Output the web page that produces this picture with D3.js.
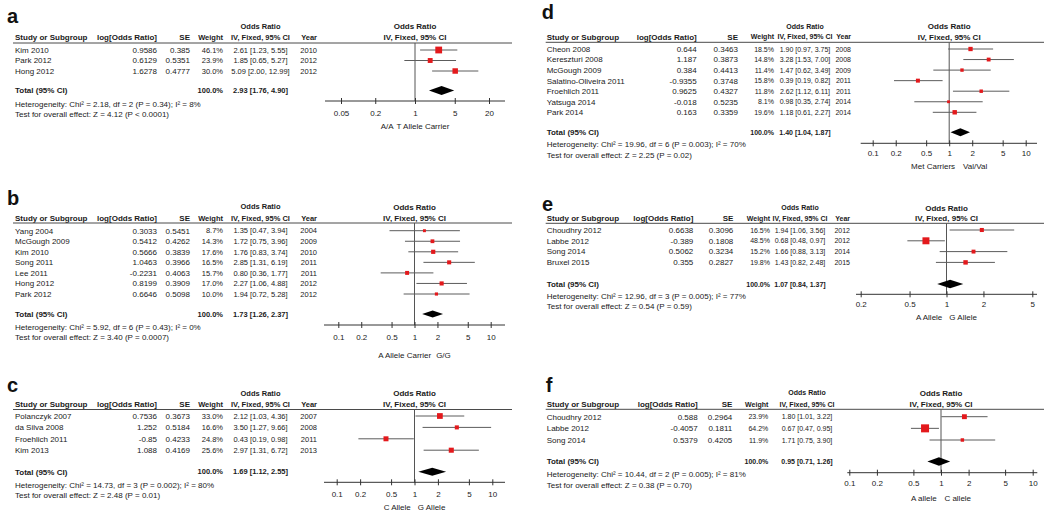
<!DOCTYPE html>
<html><head><meta charset="utf-8">
<script src="https://cdn.jsdelivr.net/npm/d3@7"></script>
<style>
body{margin:0;background:#fff;}
svg{display:block;font-family:"Liberation Sans",Arial,sans-serif;}
</style></head><body>
<svg id="chart" width="1050" height="517"></svg>
<script>
// ---------- Panel a ----------
const aStudies = ["Kim 2010","Park 2012","Hong 2012"];
const aLogOR = [0.9586,0.6129,1.6278];
const aSE = [0.385,0.5351,0.4777];
const aWeight = [46.1,23.9,30.0];
const aOR = [2.61,1.85,5.09];
const aLow = [1.23,0.65,2.00];
const aHigh = [5.55,5.27,12.99];
const aYear = [2010,2012,2012];
const aTotal = [2.93,1.76,4.90];
const aHet = "Heterogeneity: Chi\u00b2 = 2.18, df = 2 (P = 0.34); I\u00b2 = 8%";
const aTest = "Test for overall effect: Z = 4.12 (P < 0.0001)";
const aTicks = [0.05,0.2,1,5,20];
const aFavours = ["A/A","T Allele Carrier"];

// ---------- Panel b ----------
const bStudies = ["Yang 2004","McGough 2009","Kim 2010","Song 2011","Lee 2011","Hong 2012","Park 2012"];
const bLogOR = [0.3033,0.5412,0.5666,1.0463,-0.2231,0.8199,0.6646];
const bSE = [0.5451,0.4262,0.3839,0.3966,0.4063,0.3909,0.5098];
const bWeight = [8.7,14.3,17.6,16.5,15.7,17.0,10.0];
const bOR = [1.35,1.72,1.76,2.85,0.80,2.27,1.94];
const bLow = [0.47,0.75,0.83,1.31,0.36,1.06,0.72];
const bHigh = [3.94,3.96,3.74,6.19,1.77,4.88,5.28];
const bYear = [2004,2009,2010,2011,2011,2012,2012];
const bTotal = [1.73,1.26,2.37];
const bHet = "Heterogeneity: Chi\u00b2 = 5.92, df = 6 (P = 0.43); I\u00b2 = 0%";
const bTest = "Test for overall effect: Z = 3.40 (P = 0.0007)";
const bTicks = [0.1,0.2,0.5,1,2,5,10];
const bFavours = ["A Allele Carrier","G/G"];

// ---------- Panel c ----------
const cStudies = ["Polanczyk 2007","da Silva 2008","Froehlich 2011","Kim 2013"];
const cLogOR = [0.7536,1.252,-0.85,1.088];
const cSE = [0.3673,0.5184,0.4233,0.4169];
const cWeight = [33.0,16.6,24.8,25.6];
const cOR = [2.12,3.50,0.43,2.97];
const cLow = [1.03,1.27,0.19,1.31];
const cHigh = [4.36,9.66,0.98,6.72];
const cYear = [2007,2008,2011,2013];
const cTotal = [1.69,1.12,2.55];
const cHet = "Heterogeneity: Chi\u00b2 = 14.73, df = 3 (P = 0.002); I\u00b2 = 80%";
const cTest = "Test for overall effect: Z = 2.48 (P = 0.01)";
const cTicks = [0.1,0.2,0.5,1,2,5,10];
const cFavours = ["C Allele","G Allele"];

// ---------- Panel d ----------
const dStudies = ["Cheon 2008","Kereszturi 2008","McGough 2009","Salatino-Oliveira 2011","Froehlich 2011","Yatsuga 2014","Park 2014"];
const dLogOR = [0.644,1.187,0.384,-0.9355,0.9625,-0.018,0.163];
const dSE = [0.3463,0.3873,0.4413,0.3748,0.4327,0.5235,0.3359];
const dWeight = [18.5,14.8,11.4,15.8,11.8,8.1,19.6];
const dOR = [1.90,3.28,1.47,0.39,2.62,0.98,1.18];
const dLow = [0.97,1.53,0.62,0.19,1.12,0.35,0.61];
const dHigh = [3.75,7.00,3.49,0.82,6.11,2.74,2.27];
const dYear = [2008,2008,2009,2011,2011,2014,2014];
const dTotal = [1.40,1.04,1.87];
const dHet = "Heterogeneity: Chi\u00b2 = 19.96, df = 6 (P = 0.003); I\u00b2 = 70%";
const dTest = "Test for overall effect: Z = 2.25 (P = 0.02)";
const dTicks = [0.1,0.2,0.5,1,2,5,10];
const dFavours = ["Met Carriers","Val/Val"];

// ---------- Panel e ----------
const eStudies = ["Choudhry 2012","Labbe 2012","Song 2014","Bruxel 2015"];
const eLogOR = [0.6638,-0.389,0.5062,0.355];
const eSE = [0.3096,0.1808,0.3234,0.2827];
const eWeight = [16.5,48.5,15.2,19.8];
const eOR = [1.94,0.68,1.66,1.43];
const eLow = [1.06,0.48,0.88,0.82];
const eHigh = [3.56,0.97,3.13,2.48];
const eYear = [2012,2012,2014,2015];
const eTotal = [1.07,0.84,1.37];
const eHet = "Heterogeneity: Chi\u00b2 = 12.96, df = 3 (P = 0.005); I\u00b2 = 77%";
const eTest = "Test for overall effect: Z = 0.54 (P = 0.59)";
const eTicks = [0.2,0.5,1,2,5];
const eFavours = ["A Allele","G Allele"];

// ---------- Panel f ----------
const fStudies = ["Choudhry 2012","Labbe 2012","Song 2014"];
const fLogOR = [0.588,-0.4057,0.5379];
const fSE = [0.2964,0.1811,0.4205];
const fWeight = [23.9,64.2,11.9];
const fOR = [1.80,0.67,1.71];
const fLow = [1.01,0.47,0.75];
const fHigh = [3.22,0.95,3.90];
const fYear = null;
const fTotal = [0.95,0.71,1.26];
const fHet = "Heterogeneity: Chi\u00b2 = 10.44, df = 2 (P = 0.005); I\u00b2 = 81%";
const fTest = "Test for overall effect: Z = 0.38 (P = 0.70)";
const fTicks = [0.1,0.2,0.5,1,2,5,10];
const fFavours = ["A allele","C allele"];

const panels = [
  {id:"a", studies:aStudies, logOR:aLogOR, se:aSE, weight:aWeight, or:aOR, low:aLow, high:aHigh, year:aYear, total:aTotal, het:aHet, test:aTest, ticks:aTicks, favours:aFavours},
  {id:"b", studies:bStudies, logOR:bLogOR, se:bSE, weight:bWeight, or:bOR, low:bLow, high:bHigh, year:bYear, total:bTotal, het:bHet, test:bTest, ticks:bTicks, favours:bFavours},
  {id:"c", studies:cStudies, logOR:cLogOR, se:cSE, weight:cWeight, or:cOR, low:cLow, high:cHigh, year:cYear, total:cTotal, het:cHet, test:cTest, ticks:cTicks, favours:cFavours},
  {id:"d", studies:dStudies, logOR:dLogOR, se:dSE, weight:dWeight, or:dOR, low:dLow, high:dHigh, year:dYear, total:dTotal, het:dHet, test:dTest, ticks:dTicks, favours:dFavours},
  {id:"e", studies:eStudies, logOR:eLogOR, se:eSE, weight:eWeight, or:eOR, low:eLow, high:eHigh, year:eYear, total:eTotal, het:eHet, test:eTest, ticks:eTicks, favours:eFavours},
  {id:"f", studies:fStudies, logOR:fLogOR, se:fSE, weight:fWeight, or:fOR, low:fLow, high:fHigh, year:fYear, total:fTotal, het:fHet, test:fTest, ticks:fTicks, favours:fFavours}
];

// ---------- Layout (pixel positions, not data) ----------
const layouts = {
  a:{labelX:7, labelY:23, titleY:26, headY:37, lineY:43, lineX0:13, lineX1:512, row0:50, rowStep:10.5, totalY:90.5, hetY:104, testY:114,
     axisY:101, tickLabY:113, favY:126, studyX:15, logR:157, seR:190, wR:223, ciC:260.5, yearR:317, numFS:7.5,
     axX0:325, axX1:505, tick0X:341, tick1X:489, favGap:3, dH:9},
  b:{labelX:7, labelY:205, titleY:206.7, headY:218, lineY:223, lineX0:13, lineX1:512, row0:230.7, rowStep:10.55, totalY:314, hetY:326.7, testY:336.7,
     axisY:325, tickLabY:337, favY:355, studyX:15, logR:157, seR:190, wR:223, ciC:260.5, yearR:317, numFS:7.5,
     axX0:324, axX1:505, tick0X:338.3, tick1X:490.7, favGap:5, dH:7},
  c:{labelX:7, labelY:392, titleY:393, headY:404, lineY:409.5, lineX0:13, lineX1:512, row0:416, rowStep:11.4, totalY:471.7, hetY:485, testY:495,
     axisY:482.3, tickLabY:494, favY:507.3, studyX:15, logR:157, seR:190, wR:223, ciC:260.5, yearR:317, numFS:7.5,
     axX0:324, axX1:505, tick0X:336.7, tick1X:492.3, favGap:7, dH:8},
  d:{labelX:541.7, labelY:19, titleY:26, headY:36.7, lineY:42.3, lineX0:545.7, lineX1:1044, row0:49, rowStep:10.55, totalY:132.3, hetY:144.3, testY:155,
     axisY:143.3, tickLabY:153.3, favY:166, studyX:546.7, logR:696.7, seR:738, wR:774, ciC:805, yearR:851, numFS:7,
     axX0:860.7, axX1:1037, tick0X:872.7, tick1X:1025.7, favGap:8, dH:8},
  e:{labelX:542, labelY:210.5, titleY:207.7, headY:218.3, lineY:223.3, lineX0:545.7, lineX1:1044, row0:230, rowStep:10.8, totalY:284, hetY:295.7, testY:306,
     axisY:294.3, tickLabY:304.3, favY:317.3, studyX:546.7, logR:693.3, seR:733.3, wR:770, ciC:800, yearR:850, numFS:7,
     axX0:856, axX1:1037, tick0X:860.7, tick1X:1032.3, favGap:7, dH:8.5},
  f:{labelX:545.7, labelY:392, titleY:392.7, headY:404.3, lineY:409.3, lineX0:545.7, lineX1:1044, row0:416.7, rowStep:11.65, totalY:461.5, hetY:474.3, testY:485,
     axisY:472.7, tickLabY:483.3, favY:497.7, studyX:546.7, logR:697.7, seR:732.3, wR:768.3, ciC:807, yearR:null, numFS:7,
     axX0:847.3, axX1:1037.3, tick0X:849.3, tick1X:1032.7, favGap:7.7, dH:8.3}
};

const svg = d3.select("#chart");
const FS = 8;
const TXT = "#1a1a1a", RED = "#e3191c", GREY = "#5c5c5c";

function txt(g, s, x, y, anchor, bold, fs) {
  const size = fs || FS;
  return g.append("text").attr("x", x).attr("y", y + size * 0.36).attr("text-anchor", anchor || "start")
    .attr("font-size", size).attr("font-weight", bold ? "bold" : "normal").attr("fill", TXT).text(s);
}

panels.forEach(P => {
  const L = layouts[P.id];
  const g = svg.append("g").attr("class", "panel-" + P.id);
  const n = P.studies.length;
  const NF = L.numFS;
  const rowY = i => L.row0 + i * L.rowStep;
  const x = d3.scaleLog().domain([P.ticks[0], P.ticks[P.ticks.length - 1]]).range([L.tick0X, L.tick1X]);
  const xc = x(1);

  g.append("text").attr("x", L.labelX).attr("y", L.labelY).attr("font-size", 20).attr("font-weight", "bold")
    .attr("fill", "#111").text(P.id);

  // headers
  txt(g, "Odds Ratio", L.ciC, L.titleY, "middle", true, NF);
  txt(g, "Study or Subgroup", L.studyX, L.headY, "start", true);
  txt(g, "log[Odds Ratio]", L.logR, L.headY, "end", true);
  txt(g, "SE", L.seR, L.headY, "end", true);
  txt(g, "Weight", L.wR, L.headY, "end", true, NF);
  txt(g, "IV, Fixed, 95% CI", L.ciC, L.headY, "middle", true, NF);
  if (P.year) txt(g, "Year", L.yearR, L.headY, "end", true, NF);
  txt(g, "Odds Ratio", xc, L.titleY, "middle", true);
  txt(g, "IV, Fixed, 95% CI", xc, L.headY, "middle", true);

  g.append("line").attr("x1", L.lineX0).attr("x2", L.lineX1).attr("y1", L.lineY).attr("y2", L.lineY)
    .attr("stroke", "#4a4a4a").attr("stroke-width", 1);

  // rows
  const idx = d3.range(n);
  idx.forEach(i => {
    const y = rowY(i);
    txt(g, P.studies[i], L.studyX, y, "start");
    txt(g, String(P.logOR[i]), L.logR, y, "end");
    txt(g, String(P.se[i]), L.seR, y, "end");
    txt(g, P.weight[i].toFixed(1) + "%", L.wR, y, "end", false, NF);
    txt(g, P.or[i].toFixed(2) + " [" + P.low[i].toFixed(2) + ", " + P.high[i].toFixed(2) + "]", L.ciC, y, "middle", false, NF);
    if (P.year) txt(g, String(P.year[i]), L.yearR, y, "end", false, NF);
  });

  // total
  txt(g, "Total (95% CI)", L.studyX, L.totalY, "start", true);
  txt(g, "100.0%", L.wR, L.totalY, "end", true, NF);
  txt(g, P.total[0].toFixed(2) + " [" + P.total[1].toFixed(2) + ", " + P.total[2].toFixed(2) + "]", L.ciC, L.totalY, "middle", true, NF);
  txt(g, P.het, L.studyX, L.hetY, "start");
  txt(g, P.test, L.studyX, L.testY, "start");

  // plot: reference line at OR = 1
  g.append("line").attr("x1", xc).attr("x2", xc).attr("y1", L.lineY).attr("y2", L.axisY)
    .attr("stroke", "#555").attr("stroke-width", 1);

  // CI lines
  g.selectAll("line.ci").data(idx).enter().append("line").attr("class", "ci")
    .attr("x1", i => x(P.low[i])).attr("x2", i => x(P.high[i]))
    .attr("y1", i => rowY(i)).attr("y2", i => rowY(i))
    .attr("stroke", GREY).attr("stroke-width", 1);

  // squares (area proportional to weight)
  g.selectAll("rect.pt").data(idx).enter().append("rect").attr("class", "pt")
    .attr("x", i => x(P.or[i]) - Math.sqrt(P.weight[i]) / 2)
    .attr("y", i => rowY(i) - Math.sqrt(P.weight[i]) / 2)
    .attr("width", i => Math.sqrt(P.weight[i]))
    .attr("height", i => Math.sqrt(P.weight[i]))
    .attr("fill", RED);

  // diamond
  const h = L.dH / 2, ty = L.totalY;
  g.append("path")
    .attr("d", `M${x(P.total[1])},${ty}L${x(P.total[0])},${ty - h}L${x(P.total[2])},${ty}L${x(P.total[0])},${ty + h}Z`)
    .attr("fill", "#000");

  // axis
  g.append("line").attr("x1", L.axX0).attr("x2", L.axX1).attr("y1", L.axisY).attr("y2", L.axisY)
    .attr("stroke", "#333").attr("stroke-width", 1);
  const ax = g.append("g").attr("transform", `translate(0,${L.axisY})`)
    .call(d3.axisBottom(x).tickValues(P.ticks).tickFormat(d => String(d)).tickSizeOuter(0).tickSize(3));
  ax.select(".domain").remove();
  ax.selectAll(".tick line").attr("y1", -3).attr("y2", 3).attr("stroke", "#333");
  ax.selectAll(".tick text").attr("y", L.tickLabY - L.axisY + FS * 0.36).attr("dy", null)
    .attr("font-size", FS).attr("fill", TXT).attr("font-family", "'Liberation Sans',Arial,sans-serif");

  // favours labels
  const t1 = txt(g, P.favours[0], 0, L.favY, "start");
  const t2 = txt(g, P.favours[1], 0, L.favY, "start");
  const w1 = t1.node().getComputedTextLength(), w2 = t2.node().getComputedTextLength();
  const start = xc - (w1 + L.favGap + w2) / 2;
  t1.attr("x", start);
  t2.attr("x", start + w1 + L.favGap);
});
</script>
</body></html>
